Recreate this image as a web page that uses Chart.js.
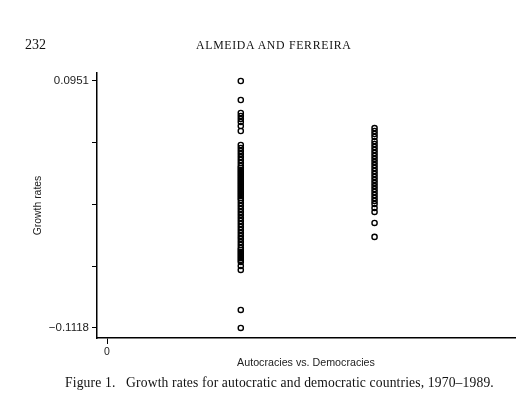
<!DOCTYPE html>
<html>
<head>
<meta charset="utf-8">
<script src="https://cdn.jsdelivr.net/npm/chart.js@4/dist/chart.umd.min.js"></script>
<style>
  html, body { margin: 0; padding: 0; background: #fff; }
  #wrap { position: relative; width: 525px; height: 397px; overflow: hidden; }
  #c { position: absolute; left: 0; top: 0; }
  .t { position: absolute; font-family: "Liberation Serif", "DejaVu Serif", serif; color: #111; white-space: nowrap; }
</style>
</head>
<body>
<div id="wrap">
  <canvas id="c" width="525" height="397"></canvas>
  <div class="t" style="left:25px; top:37px; font-size:14px;">232</div>
  <div class="t" style="left:196px; top:38px; font-size:11.8px; letter-spacing:0.7px;">ALMEIDA AND FERREIRA</div>
  <div class="t" style="left:65px; top:375px; font-size:13.6px; letter-spacing:0.15px;">Figure 1.&nbsp;&nbsp;&nbsp;Growth rates for autocratic and democratic countries, 1970–1989.</div>
</div>
<script>
// Groups (x positions on the plot) and labels
const groupX = [1, 2];
const groupNames = ["Autocracies", "Democracies"];
// Growth rates, autocratic countries 1970–1989
const autocracies = [
  0.0951, 0.0792, 0.0683, 0.0658, 0.0633, 0.0608, 0.0574, 0.0532,
  0.0415, 0.0390, 0.0365, 0.0340, 0.0314, 0.0289, 0.0264, 0.0239,
  0.0222, 0.0205, 0.0189, 0.0172, 0.0155, 0.0138, 0.0122, 0.0105,
  0.0088, 0.0071, 0.0055, 0.0038, 0.0021, 0.0004, -0.0012, -0.0029,
  -0.0046, -0.0071, -0.0096, -0.0121, -0.0146, -0.0171, -0.0197, -0.0222,
  -0.0247, -0.0272, -0.0297, -0.0322, -0.0347, -0.0372, -0.0398, -0.0423,
  -0.0448, -0.0465, -0.0481, -0.0498, -0.0515, -0.0532, -0.0548, -0.0565,
  -0.0599, -0.0632, -0.0967, -0.1118
];
// Growth rates, democratic countries 1970–1989
const democracies = [
  0.0557, 0.0532, 0.0507, 0.0482, 0.0448, 0.0423, 0.0398, 0.0373,
  0.0348, 0.0323, 0.0298, 0.0272, 0.0247, 0.0222, 0.0197, 0.0172,
  0.0147, 0.0122, 0.0097, 0.0071, 0.0046, 0.0021, -0.0004, -0.0029,
  -0.0054, -0.0079, -0.0113, -0.0146, -0.0238, -0.0355
];
// Y tick values (only the extremes are labelled)
const yTicks = [-0.1118, -0.06008, -0.00835, 0.04338, 0.0951];
const yTickLabels = ["−0.1118", "", "", "", "0.0951"];
const xTicks = [0];
const xTickLabels = ["0"];
const yTitle = "Growth rates";
const xTitle = "Autocracies vs. Democracies";

const toPoints = (x, arr) => arr.map(v => ({ x: x, y: v }));

const pointStyle = {
  pointRadius: 2.6,
  pointBorderWidth: 1.4,
  pointBorderColor: "#000",
  pointBackgroundColor: "rgba(255,255,255,0)",
  showLine: false
};

const sans = "'Liberation Sans', Arial, sans-serif";

new Chart(document.getElementById("c"), {
  type: "scatter",
  data: {
    datasets: [
      Object.assign({ label: groupNames[0], data: toPoints(groupX[0], autocracies) }, pointStyle),
      Object.assign({ label: groupNames[1], data: toPoints(groupX[1], democracies) }, pointStyle)
    ]
  },
  options: {
    responsive: false,
    animation: false,
    devicePixelRatio: 1,
    layout: { padding: { left: 25, top: 73, right: 10, bottom: 27 } },
    plugins: { legend: { display: false }, tooltip: { enabled: false } },
    scales: {
      x: {
        type: "linear",
        min: -0.075,
        max: 3.05,
        afterBuildTicks: s => { s.ticks = xTicks.map(v => ({ value: v })); },
        afterFit: s => { s.height = 32; },
        ticks: {
          callback: (v, i) => xTickLabels[i],
          color: "#222",
          font: { family: sans, size: 10.5 },
          padding: 2,
          maxRotation: 0
        },
        grid: { drawOnChartArea: false, drawTicks: true, tickLength: 6, color: "#000", tickWidth: 1 },
        border: { display: true, color: "#000", width: 1.5 },
        title: { display: true, text: xTitle, color: "#222", font: { family: sans, size: 10.7 }, padding: { top: 0, bottom: 1 } }
      },
      y: {
        type: "linear",
        min: -0.1202,
        max: 0.1018,
        afterBuildTicks: s => { s.ticks = yTicks.map(v => ({ value: v })); },
        afterFit: s => { s.width = 72; },
        ticks: {
          callback: (v, i) => yTickLabels[i],
          color: "#222",
          font: { family: sans, size: 11.5 },
          padding: 3
        },
        grid: { drawOnChartArea: false, drawTicks: true, tickLength: 5, color: "#000", tickWidth: 1 },
        border: { display: true, color: "#000", width: 1.5 },
        title: { display: true, text: yTitle, color: "#222", font: { family: sans, size: 10.4 }, padding: { top: 7, bottom: 0 } }
      }
    }
  }
});
</script>
</body>
</html>
